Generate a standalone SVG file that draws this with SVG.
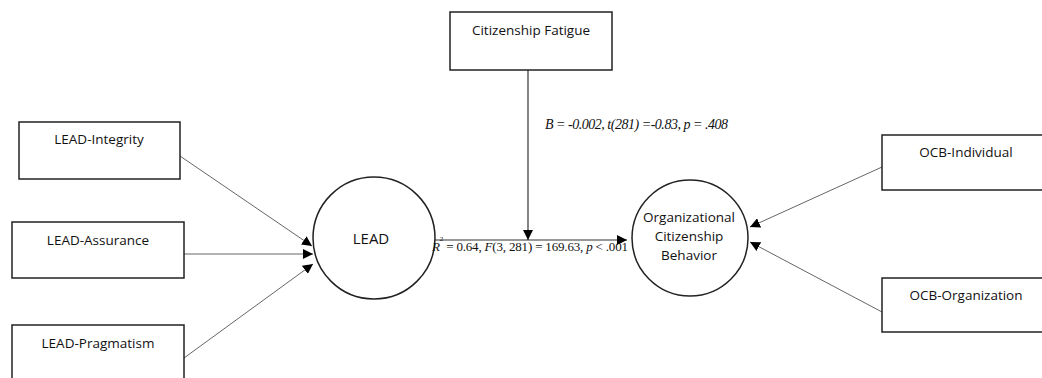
<svg xmlns="http://www.w3.org/2000/svg" width="1042" height="378" viewBox="0 0 1042 378">
<style>
.box{fill:#fff;stroke:#222;stroke-width:1.5}
.circ{fill:#fff;stroke:#222;stroke-width:1.5}
.lbl{font-family:"Open Sans","Liberation Sans",sans-serif;font-size:13.5px;fill:#111;text-anchor:middle}
.conn{stroke:#666;stroke-width:1;fill:none}
.main{stroke:#333;stroke-width:1.2;fill:none}
.stat{font-family:"Liberation Serif",serif;font-size:13px;fill:#111}
</style>
<defs>
<marker id="ah" markerWidth="10" markerHeight="10" refX="10" refY="5" orient="auto" markerUnits="userSpaceOnUse">
<path d="M0,0 L10,5 L0,10 Z" fill="#000"/>
</marker>
</defs>
<rect width="1042" height="378" fill="#fff"/>
<g id="connectors">
<line class="conn" x1="180" y1="156" x2="312" y2="246" marker-end="url(#ah)"/>
<line class="conn" x1="184" y1="254" x2="313" y2="254" marker-end="url(#ah)"/>
<line class="conn" x1="184" y1="358" x2="313" y2="264" marker-end="url(#ah)"/>
<line class="main" x1="435" y1="240" x2="627" y2="240" marker-end="url(#ah)"/>
<line class="main" x1="528" y1="70" x2="528" y2="240" marker-end="url(#ah)"/>
<line class="conn" x1="882" y1="167" x2="750" y2="227" marker-end="url(#ah)"/>
<line class="conn" x1="882" y1="312" x2="750" y2="242" marker-end="url(#ah)"/>
</g>
<g id="lead-integrity"><rect class="box" x="19" y="122" width="161" height="57"/><text class="lbl" x="99" y="144">LEAD-Integrity</text></g>
<g id="lead-assurance"><rect class="box" x="12" y="222" width="172" height="56"/><text class="lbl" x="98" y="245">LEAD-Assurance</text></g>
<g id="lead-pragmatism"><rect class="box" x="12" y="325" width="172" height="60"/><text class="lbl" x="98" y="348">LEAD-Pragmatism</text></g>
<g id="citizenship-fatigue"><rect class="box" x="450" y="12" width="162" height="58"/><text class="lbl" x="531" y="35">Citizenship Fatigue</text></g>
<g id="lead"><circle class="circ" cx="374" cy="238" r="61"/><text class="lbl" x="371" y="244" style="font-size:15px">LEAD</text></g>
<g id="ocb"><circle class="circ" cx="690" cy="238" r="58"/>
<text class="lbl" x="689" y="222">Organizational</text>
<text class="lbl" x="689" y="241">Citizenship</text>
<text class="lbl" x="689" y="260">Behavior</text></g>
<g id="ocb-individual"><rect class="box" x="882" y="135" width="165" height="55"/><text class="lbl" x="966" y="157">OCB-Individual</text></g>
<g id="ocb-organization"><rect class="box" x="882" y="278" width="165" height="54"/><text class="lbl" x="966" y="300">OCB-Organization</text></g>
<text class="stat" x="545" y="129" style="font-size:14px" font-style="italic" textLength="183">B = -0.002, t(281) =-0.83, p = .408</text>
<text class="stat" x="432" y="251" textLength="196"><tspan font-style="italic">R</tspan><tspan style="font-size:7px" dy="-10">2</tspan><tspan dy="10"> = 0.64, </tspan><tspan font-style="italic">F</tspan>(3, 281) = 169.63, <tspan font-style="italic">p</tspan> &lt; .001</text>
</svg>
